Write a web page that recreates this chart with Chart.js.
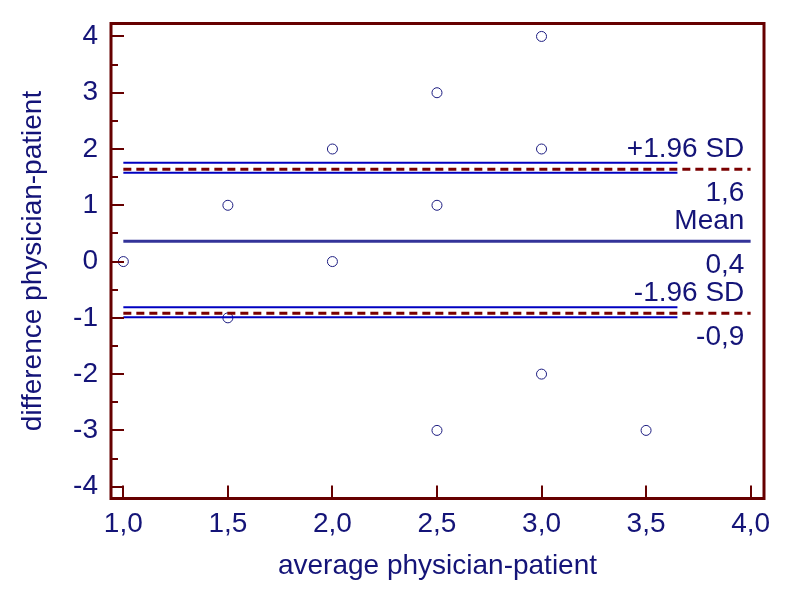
<!DOCTYPE html>
<html>
<head>
<meta charset="utf-8">
<script src="https://cdn.jsdelivr.net/npm/chart.js@4.4.1/dist/chart.umd.min.js"></script>
<style>
  html, body { margin: 0; padding: 0; background: #ffffff; }
  #wrap { width: 800px; height: 600px; }
</style>
</head>
<body>
<div id="wrap"><canvas id="c" width="800" height="600"></canvas></div>
<script>
// ---- data ----
const averages = [1.0, 1.5, 1.5, 2.0, 2.0, 2.5, 2.5, 2.5, 3.0, 3.0, 3.0, 3.5];
const differences = [0, 1, -1, 2, 0, 3, 1, -3, 4, 2, -2, -3];
const meanDiff = 0.36;
const upperLimit = 1.64;
const lowerLimit = -0.92;
const upperLimitCI = [1.58, 1.755];
const lowerLimitCI = [-0.99, -0.81];
const lineRange = [1.0, 4.0];
const ciRange = [1.0, 3.65];
const xTickValues = [1.0, 1.5, 2.0, 2.5, 3.0, 3.5, 4.0];
const yTickValues = [-4, -3, -2, -1, 0, 1, 2, 3, 4];
const lineLabels = [
  { text: '+1.96 SD', value: upperLimit, where: 'above' },
  { text: '1,6', value: upperLimit, where: 'below' },
  { text: 'Mean', value: meanDiff, where: 'above' },
  { text: '0,4', value: meanDiff, where: 'below' },
  { text: '-1.96 SD', value: lowerLimit, where: 'above' },
  { text: '-0,9', value: lowerLimit, where: 'below' }
];
const xTitle = 'average physician-patient';
const yTitle = 'difference physician-patient';

// ---- styles ----
const FONT = "'Liberation Sans', Arial, sans-serif";
const TEXT = '#141478';
const FRAME = '#660000';
const FS = 28;

function hline(y, range, color, width, dash) {
  return {
    type: 'line',
    data: [{ x: range[0], y: y }, { x: range[1], y: y }],
    borderColor: color,
    borderWidth: width,
    borderDash: dash || [],
    pointRadius: 0,
    pointHoverRadius: 0,
    fill: false,
    tension: 0
  };
}

const framePlugin = {
  id: 'frame',
  afterDatasetsDraw(chart) {
    const { ctx, chartArea: a, scales: { x, y } } = chart;
    ctx.save();
    ctx.strokeStyle = FRAME;
    ctx.lineWidth = 3;
    ctx.lineCap = 'butt';
    ctx.strokeRect(a.left, a.top, a.right - a.left, a.bottom - a.top);
    ctx.lineWidth = 2;
    ctx.beginPath();
    yTickValues.forEach((v, i) => {
      const py = Math.round(y.getPixelForValue(v));
      ctx.moveTo(a.left, py); ctx.lineTo(a.left + 13, py);
      if (i < yTickValues.length - 1) {
        const pm = Math.round(y.getPixelForValue(v + 0.5));
        ctx.moveTo(a.left, pm); ctx.lineTo(a.left + 7, pm);
      }
    });
    xTickValues.forEach(v => {
      const px = Math.round(x.getPixelForValue(v));
      ctx.moveTo(px, a.bottom); ctx.lineTo(px, a.bottom - 13);
    });
    ctx.stroke();
    // line labels
    ctx.fillStyle = TEXT;
    ctx.font = FS + 'px ' + FONT;
    ctx.textAlign = 'right';
    ctx.textBaseline = 'middle';
    const rx = x.getPixelForValue(3.97);
    lineLabels.forEach(l => {
      const py = y.getPixelForValue(l.value) + (l.where === 'above' ? -20 : 24);
      ctx.fillText(l.text, rx, py);
    });
    ctx.restore();
  }
};

function zeroPad(s) {
  s.paddingTop = 0; s.paddingBottom = 0; s.paddingLeft = 0; s.paddingRight = 0;
}

new Chart(document.getElementById('c'), {
  type: 'scatter',
  data: {
    datasets: [
      hline(upperLimitCI[1], ciRange, '#0000c0', 2),
      hline(upperLimitCI[0], ciRange, '#0000c0', 2),
      hline(upperLimit, lineRange, '#7a0000', 3, [8, 5]),
      hline(meanDiff, lineRange, '#333399', 3),
      hline(lowerLimitCI[1], ciRange, '#0000c0', 2),
      hline(lowerLimitCI[0], ciRange, '#0000c0', 2),
      hline(lowerLimit, lineRange, '#7a0000', 3, [8, 5]),
      {
        type: 'scatter',
        data: averages.map((a, i) => ({ x: a, y: differences[i] })),
        pointStyle: 'circle',
        pointRadius: 5,
        pointBorderWidth: 1,
        borderColor: '#1c1c80',
        backgroundColor: 'rgba(0,0,0,0)',
        showLine: false
      }
    ]
  },
  options: {
    responsive: false,
    animation: false,
    events: [],
    layout: { padding: { top: 23.5, right: 36, left: 0, bottom: 0 } },
    plugins: { legend: { display: false }, tooltip: { enabled: false } },
    scales: {
      x: {
        type: 'linear',
        min: 0.941,
        max: 4.064,
        afterBuildTicks: s => { s.ticks = xTickValues.map(v => ({ value: v })); },
        afterFit: s => { s.height = 101.5; zeroPad(s); },
        grid: { display: false, drawTicks: false },
        border: { display: false },
        ticks: {
          autoSkip: false, maxRotation: 0, padding: 9,
          color: TEXT, font: { family: FONT, size: FS },
          callback: v => v.toFixed(1).replace('.', ',')
        },
        title: {
          display: true, text: xTitle, color: TEXT,
          font: { family: FONT, size: FS },
          padding: { top: 0, bottom: 17 }
        }
      },
      y: {
        type: 'linear',
        min: -4.21,
        max: 4.23,
        afterBuildTicks: s => { s.ticks = yTickValues.map(v => ({ value: v })); },
        afterFit: s => { s.width = 111; zeroPad(s); },
        grid: { display: false, drawTicks: false },
        border: { display: false },
        ticks: {
          autoSkip: false, padding: 13,
          color: TEXT, font: { family: FONT, size: FS },
          callback: v => String(v)
        },
        title: {
          display: true, text: yTitle, color: TEXT,
          font: { family: FONT, size: FS },
          padding: { top: 16, bottom: 0 }
        }
      }
    }
  },
  plugins: [framePlugin]
});
</script>
</body>
</html>
